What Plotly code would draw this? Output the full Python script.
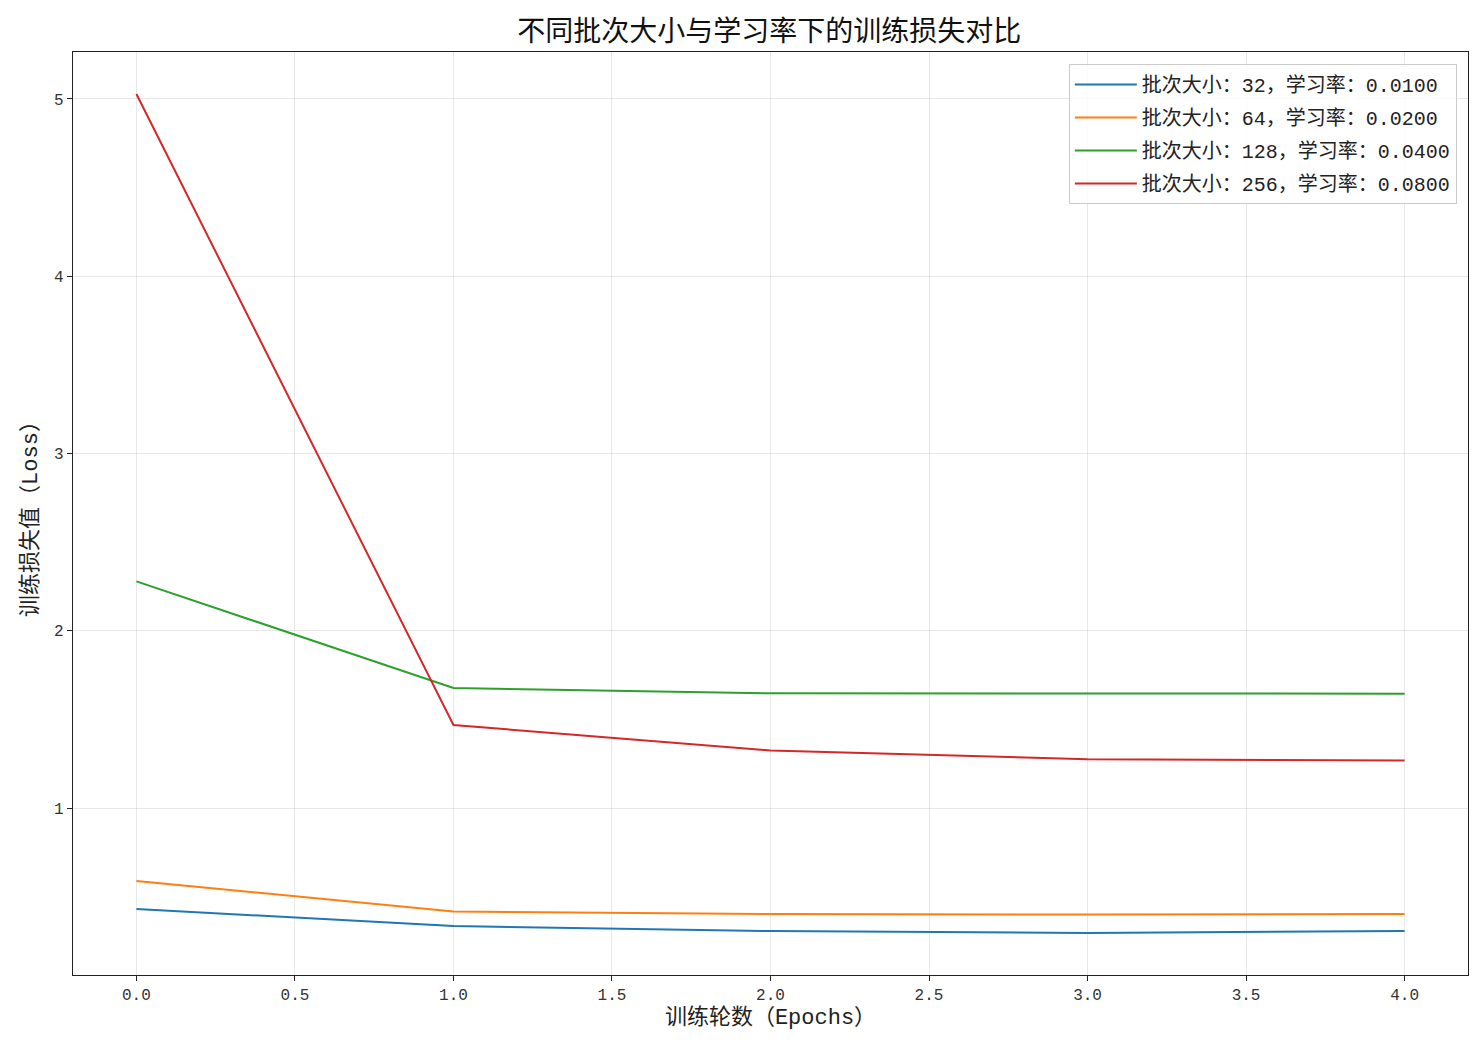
import plotly.graph_objects as go

epochs = [0, 1, 2, 3, 4]
names = ["批次大小：32，学习率：0.0100", "批次大小：64，学习率：0.0200",
         "批次大小：128，学习率：0.0400", "批次大小：256，学习率：0.0800"]
loss_32 = [0.431, 0.335, 0.307, 0.296, 0.307]
loss_64 = [0.589, 0.417, 0.403, 0.400, 0.403]
loss_128 = [2.279, 1.678, 1.648, 1.648, 1.646]
loss_256 = [5.028, 1.469, 1.325, 1.276, 1.269]
colors = ["#1f77b4", "#ff7f0e", "#2ca02c", "#d62728"]
x_ticks = [0, 0.5, 1, 1.5, 2, 2.5, 3, 3.5, 4]
y_ticks = [1, 2, 3, 4, 5]

FONT = "Liberation Mono, Noto Sans CJK SC, monospace"

fig = go.Figure()
for i, (nm, ys) in enumerate(zip(names, [loss_32, loss_64, loss_128, loss_256])):
    fig.add_trace(go.Scatter(x=epochs, y=ys, mode="lines", name=nm,
                             legendgroup=str(i),
                             line=dict(color=colors[i], width=2)))

axis_common = dict(showline=True, linecolor="#222", linewidth=1.3, mirror=True,
                   ticks="outside", ticklen=5, tickcolor="#222",
                   showgrid=True, gridcolor="rgba(0,0,0,0.09)", gridwidth=1,
                   zeroline=False, tickfont=dict(family=FONT, size=16, color="#333"))

fig.update_layout(
    width=1467, height=1038,
    margin=dict(l=65, r=7, t=44, b=71),
    paper_bgcolor="white", plot_bgcolor="white",
    font=dict(family=FONT, color="#222"),
    title=dict(text="不同批次大小与学习率下的训练损失对比", x=0.519, xanchor="center",
               y=0.978, yanchor="middle", font=dict(family=FONT, size=28, color="#111")),
    xaxis=dict(range=[-0.2, 4.2], tickvals=x_ticks,
               ticktext=[f"{v:.1f}" for v in x_ticks],
               title=dict(text="训练轮数（Epochs）", font=dict(family=FONT, size=22), standoff=4),
               **axis_common),
    yaxis=dict(range=[0.059, 5.265], tickvals=y_ticks,
               ticktext=[str(v) for v in y_ticks],
               title=dict(text="训练损失值（Loss）", font=dict(family=FONT, size=22), standoff=10),
               **axis_common),
    legend=dict(x=0.992, y=0.987, xanchor="right", yanchor="top",
                bgcolor="rgba(255,255,255,0.8)", bordercolor="#cccccc", borderwidth=1,
                font=dict(family=FONT, size=20, color="#222"),
                itemwidth=62,
                traceorder="grouped", tracegroupgap=4),
)

fig.write_html("out.html")
